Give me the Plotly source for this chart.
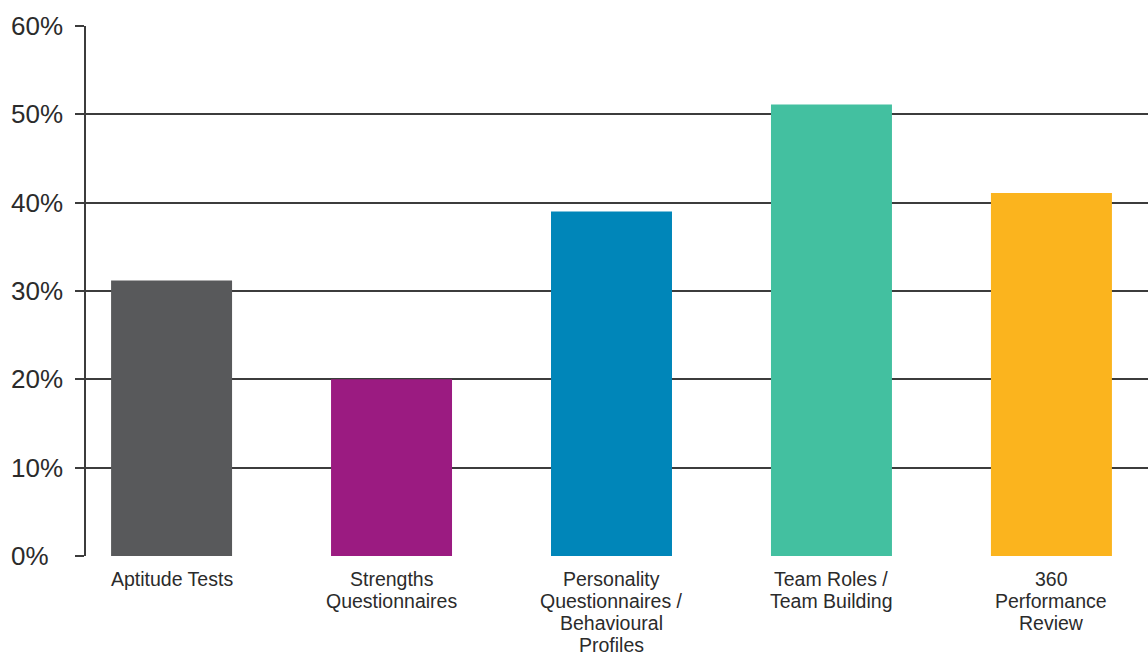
import plotly.graph_objects as go

# Share of organisations using each assessment type (%)
categories = [
    "Aptitude Tests",
    "Strengths Questionnaires",
    "Personality Questionnaires / Behavioural Profiles",
    "Team Roles / Team Building",
    "360 Performance Review",
]
label_lines = [
    ["Aptitude Tests"],
    ["Strengths", "Questionnaires"],
    ["Personality", "Questionnaires /", "Behavioural", "Profiles"],
    ["Team Roles /", "Team Building"],
    ["360", "Performance", "Review"],
]
values = [31.2, 20, 39, 51.1, 41.1]
bar_colors = ["#58595b", "#9b1b81", "#0086b9", "#43c0a0", "#fbb41e"]
y_ticks = [0, 10, 20, 30, 40, 50, 60]
y_tick_text = [f"{v}%" for v in y_ticks]

line_color = "#3c3c3c"
text_color = "#2b2b2b"
font_family = "Liberation Sans, Arial, sans-serif"

fig = go.Figure(
    go.Bar(
        x=categories,
        y=values,
        marker=dict(color=bar_colors, line=dict(width=0)),
        width=0.55,
        hoverinfo="x+y",
    )
)

# Category labels, one line per annotation for tight line spacing
for cat, lines in zip(categories, label_lines):
    for k, line in enumerate(lines):
        fig.add_annotation(
            x=cat,
            y=0,
            xref="x",
            yref="y",
            text=line,
            showarrow=False,
            xanchor="center",
            yanchor="middle",
            borderpad=0,
            yshift=-(22.5 + 22.3 * k),
            font=dict(family=font_family, size=19.5, color=text_color),
        )

# Left-aligned percentage labels on the value axis
for v, txt in zip(y_ticks, y_tick_text):
    fig.add_annotation(
        x=0,
        y=v,
        xref="paper",
        yref="y",
        text=txt,
        showarrow=False,
        xanchor="left",
        yanchor="middle",
        xshift=-77,
        font=dict(family=font_family, size=26, color=text_color),
    )

fig.update_layout(
    width=1148,
    height=657,
    margin=dict(l=86, r=0, t=26, b=101),
    paper_bgcolor="white",
    plot_bgcolor="white",
    showlegend=False,
    font=dict(family=font_family, color=text_color),
)

fig.update_xaxes(
    type="category",
    range=[-0.389, 4.439],
    showgrid=False,
    zeroline=False,
    showline=False,
    ticks="",
    showticklabels=False,
)

fig.update_yaxes(
    range=[0, 60],
    tickvals=y_ticks,
    showgrid=True,
    gridcolor=line_color,
    gridwidth=1.6,
    zeroline=False,
    showline=True,
    linecolor=line_color,
    linewidth=1.6,
    ticks="outside",
    ticklen=9,
    tickwidth=1.6,
    tickcolor=line_color,
    showticklabels=False,
)

fig.write_html("out.html")
